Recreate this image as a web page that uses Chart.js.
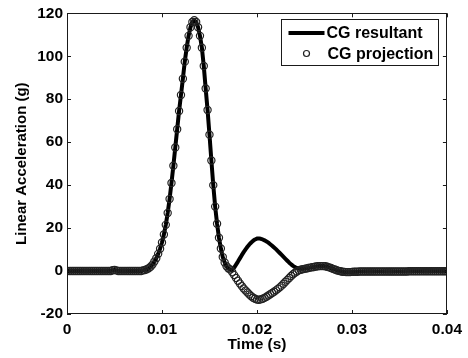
<!DOCTYPE html>
<html>
<head>
<meta charset="utf-8">
<script src="https://cdn.jsdelivr.net/npm/chart.js@4.4.1/dist/chart.umd.min.js"></script>
<style>
  html, body { margin: 0; padding: 0; background: #fff; }
  #wrap { width: 468px; height: 358px; position: relative; }
</style>
</head>
<body>
<div id="wrap"><canvas id="chart"></canvas></div>
<script>
// sampling step of both signals (s)
const sampleStep = 0.0002;

const seriesLabels = ['CG resultant', 'CG projection'];
const xTicks = [0, 0.01, 0.02, 0.03, 0.04];
const yTicks = [-20, 0, 20, 40, 60, 80, 100, 120];

// linear acceleration (g), one value per sample
const resultant = [
  0, 0, 0, 0, 0, 0, 0, 0, 0, 0,
  0, 0, 0, 0, 0, 0, 0, 0, 0, 0,
  0, 0, 0, 0, 0.4, 0.5, 0.3, 0, 0, 0,
  0, 0, 0, 0, 0, 0, 0, 0, 0, 0,
  0.3, 0.5, 0.8, 1.3, 2.0, 3.0, 4.4, 6.0, 8.0, 10.4,
  13.3, 17.0, 21.5, 27.0, 33.5, 41.0, 49.0, 57.5, 66.0, 74.5,
  82.0, 89.5, 97.5, 104.0, 109.5, 113.5, 116.0, 116.8, 116.0, 113.5,
  109.5, 104.0, 95.5, 85.0, 75.0, 63.5, 51.5, 40.0, 30.0, 22.0,
  15.5, 10.5, 6.5, 4.0, 2.2, 1.2, 0.7, 0.5, 1.6, 3.0,
  4.4, 5.9, 7.4, 8.8, 10.1, 11.3, 12.4, 13.3, 14.1, 14.7,
  15.1, 15.2, 15.0, 14.7, 14.3, 13.8, 13.2, 12.5, 11.8, 11.0,
  10.2, 9.3, 8.4, 7.5, 6.6, 5.7, 4.8, 3.9, 3.1, 2.4,
  1.8, 1.4, 1.2, 1.1, 1.1, 1.2, 1.3, 1.4, 1.6, 1.8,
  1.9, 2.1, 2.2, 2.3, 2.3, 2.3, 2.2, 2.0, 1.7, 1.4,
  1.0, 0.7, 0.4, 0.1, -0.1, -0.3, -0.4, -0.5, -0.5, -0.5,
  -0.4, -0.3, -0.3, -0.3, -0.2, -0.2, -0.2, -0.2, -0.2, -0.2,
  -0.2, -0.2, -0.2, -0.2, -0.2, -0.2, -0.2, -0.2, -0.2, -0.2,
  -0.2, -0.2, -0.2, -0.2, -0.2, -0.2, -0.2, -0.2, -0.2, -0.2,
  -0.1, -0.1, -0.1, -0.1, -0.1, -0.1, -0.1, -0.1, -0.1, -0.1,
  -0.1, -0.1, -0.1, -0.1, -0.1, -0.1, -0.1, -0.1, -0.1, -0.1,
  -0.1
];

const projection = [
  0, 0, 0, 0, 0, 0, 0, 0, 0, 0,
  0, 0, 0, 0, 0, 0, 0, 0, 0, 0,
  0, 0, 0, 0, 0.4, 0.5, 0.3, 0, 0, 0,
  0, 0, 0, 0, 0, 0, 0, 0, 0, 0,
  0.3, 0.5, 0.8, 1.3, 2.0, 3.0, 4.4, 6.0, 8.0, 10.4,
  13.3, 17.0, 21.5, 27.0, 33.5, 41.0, 49.0, 57.5, 66.0, 74.5,
  82.0, 89.5, 97.5, 104.0, 109.5, 113.5, 116.0, 116.8, 116.0, 113.5,
  109.5, 104.0, 95.5, 85.0, 75.0, 63.5, 51.5, 40.0, 30.0, 22.0,
  15.5, 10.5, 6.5, 4.0, 2.2, 1.2, 0.7, -0.6, -1.9, -3.2,
  -4.5, -5.8, -7.0, -8.1, -9.1, -10.0, -10.9, -11.7, -12.4, -12.9,
  -13.3, -13.4, -13.2, -12.9, -12.5, -12.0, -11.4, -10.8, -10.2, -9.6,
  -9.0, -8.3, -7.6, -6.8, -5.9, -5.0, -4.1, -3.2, -2.3, -1.5,
  -0.8, -0.2, 0.3, 0.6, 0.8, 1.0, 1.2, 1.4, 1.6, 1.8,
  1.9, 2.1, 2.2, 2.3, 2.3, 2.3, 2.2, 2.0, 1.7, 1.4,
  1.0, 0.7, 0.4, 0.1, -0.1, -0.3, -0.4, -0.5, -0.5, -0.5,
  -0.4, -0.3, -0.3, -0.3, -0.2, -0.2, -0.2, -0.2, -0.2, -0.2,
  -0.2, -0.2, -0.2, -0.2, -0.2, -0.2, -0.2, -0.2, -0.2, -0.2,
  -0.2, -0.2, -0.2, -0.2, -0.2, -0.2, -0.2, -0.2, -0.2, -0.2,
  -0.1, -0.1, -0.1, -0.1, -0.1, -0.1, -0.1, -0.1, -0.1, -0.1,
  -0.1, -0.1, -0.1, -0.1, -0.1, -0.1, -0.1, -0.1, -0.1, -0.1,
  -0.1
];

const FONT = '"Liberation Sans", Arial, Helvetica, sans-serif';
const toPoints = arr => arr.map((v, i) => ({ x: i * sampleStep, y: v }));

// matlab-like box, inward ticks and the legend box
const framePlugin = {
  id: 'frame',
  afterDraw(chart) {
    const { ctx, chartArea: a, scales: { x, y } } = chart;
    ctx.save();
    ctx.strokeStyle = '#1a1a1a';
    ctx.lineWidth = 1;
    ctx.strokeRect(Math.round(a.left) + 0.5, Math.round(a.top) + 0.5,
      Math.round(a.width) - 1, Math.round(a.height) - 1);

    ctx.beginPath();
    xTicks.forEach(v => {
      const px = Math.round(x.getPixelForValue(v)) + 0.5;
      ctx.moveTo(px, a.bottom); ctx.lineTo(px, a.bottom - 4);
      ctx.moveTo(px, a.top); ctx.lineTo(px, a.top + 4);
    });
    yTicks.forEach(v => {
      const py = Math.round(y.getPixelForValue(v)) + 0.5;
      ctx.moveTo(a.left, py); ctx.lineTo(a.left + 4, py);
      ctx.moveTo(a.right, py); ctx.lineTo(a.right - 4, py);
    });
    ctx.stroke();

    // legend
    const bx = Math.round(a.right - 166) + 0.5, by = Math.round(a.top + 6) + 0.5;
    const bw = 157, bh = 46;
    ctx.fillStyle = '#fff';
    ctx.fillRect(bx, by, bw, bh);
    ctx.strokeRect(bx, by, bw, bh);

    ctx.strokeStyle = '#000';
    ctx.lineWidth = 4;
    ctx.beginPath();
    ctx.moveTo(bx + 7, by + 13.5);
    ctx.lineTo(bx + 43, by + 13.5);
    ctx.stroke();

    ctx.lineWidth = 1.2;
    ctx.strokeStyle = '#222';
    ctx.beginPath();
    ctx.arc(bx + 25, by + 34, 3, 0, Math.PI * 2);
    ctx.stroke();

    ctx.fillStyle = '#000';
    ctx.font = 'bold 16px ' + FONT;
    ctx.textBaseline = 'middle';
    ctx.textAlign = 'left';
    ctx.fillText(chart.data.datasets[0].label, bx + 45, by + 14);
    ctx.fillText(chart.data.datasets[1].label, bx + 46, by + 35);
    ctx.restore();
  }
};

new Chart(document.getElementById('chart'), {
  type: 'scatter',
  data: {
    datasets: [
      {
        label: seriesLabels[0],
        data: toPoints(resultant),
        showLine: true,
        borderColor: '#000',
        borderWidth: 4,
        borderJoinStyle: 'round',
        borderCapStyle: 'round',
        pointRadius: 0,
        order: 1
      },
      {
        label: seriesLabels[1],
        data: toPoints(projection),
        showLine: false,
        pointStyle: 'circle',
        pointRadius: 3.6,
        pointBorderWidth: 1.2,
        pointBorderColor: '#222',
        pointBackgroundColor: 'rgba(255,255,255,0)',
        order: 0
      }
    ]
  },
  options: {
    responsive: true,
    maintainAspectRatio: false,
    animation: false,
    layout: { padding: { top: 13, right: 19, bottom: 0, left: 0 } },
    plugins: {
      legend: { display: false },
      tooltip: { enabled: false }
    },
    scales: {
      x: {
        type: 'linear',
        min: 0,
        max: 0.04,
        afterBuildTicks: s => { s.ticks = xTicks.map(v => ({ value: v })); },
        afterFit: s => { s.height = 44; },
        grid: { display: false, drawTicks: false },
        border: { display: false },
        ticks: {
          color: '#000',
          padding: 6,
          maxRotation: 0,
          font: { family: FONT, size: 15.5, weight: 'bold' },
          callback: v => String(+v.toFixed(2))
        },
        title: {
          display: true,
          text: 'Time (s)',
          color: '#000',
          padding: { top: 0, bottom: 4 },
          font: { family: FONT, size: 15.5, weight: 'bold' }
        }
      },
      y: {
        type: 'linear',
        min: -20,
        max: 120,
        afterBuildTicks: s => { s.ticks = yTicks.map(v => ({ value: v })); },
        afterFit: s => { s.width = 67; },
        grid: { display: false, drawTicks: false },
        border: { display: false },
        ticks: {
          color: '#000',
          padding: 4,
          font: { family: FONT, size: 15.5, weight: 'bold' }
        },
        title: {
          display: true,
          text: 'Linear Acceleration (g)',
          color: '#000',
          padding: { top: 13, bottom: 0 },
          font: { family: FONT, size: 15, weight: 'bold' }
        }
      }
    }
  },
  plugins: [framePlugin]
});
</script>
</body>
</html>
